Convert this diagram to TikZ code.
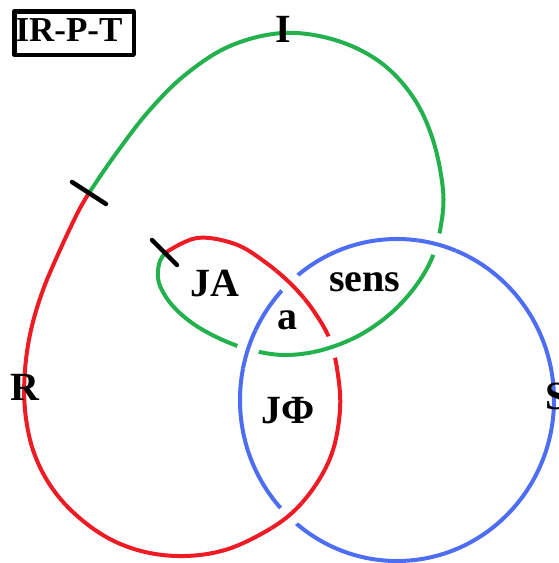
\documentclass[tikz,border=0pt]{standalone}
\usepackage{fontspec}
\setmainfont{Liberation Serif}
\definecolor{gr}{RGB}{34,177,76}
\definecolor{rd}{RGB}{237,28,36}
\definecolor{bl}{RGB}{77,109,243}
\newcommand\GreenStrand[1]{\draw[#1] plot[smooth,tension=0.6] coordinates {(89,193) (115,155) (148,112) (185,75) (230,46) (283,33) (335,40) (380,62) (413,97) (433,140) (443,190) (441,225) (432,258) (415,287) (390,314) (358,336) (322,350) (287,355) (255,351) (225,341) (195,325) (172,305) (159,283) (159,264) (165,253)};}
\newcommand\RedStrand[1]{\draw[#1] plot[smooth,tension=0.6] coordinates {(165,253) (197,238) (235,244) (265,262) (292,285) (313,310) (330,340) (338,375) (340,410) (333,450) (317,483) (293,512) (263,533) (225,550) (185,556) (145,552) (108,538) (75,514) (50,485) (33,450) (25,410) (25,370) (31,330) (43,290) (60,250) (78,212) (89,193)};}
\newcommand\BlueStrand[1]{\draw[#1] (397,400) ellipse [x radius=157, y radius=161];}
\begin{document}
\begin{tikzpicture}[x=1pt,y=-1pt,line cap=round,line join=round,
  strand/.style={line width=4pt},
  halo/.style={line width=22pt,draw=white,line cap=butt},
  lbl/.style={font=\bfseries\fontsize{40}{48}\selectfont,inner sep=0pt},
  tickmark/.style={line width=4.5pt,draw=black,line cap=round}]
\useasboundingbox (0,0) rectangle (559,563);
% full strands
\BlueStrand{strand,bl}
\GreenStrand{strand,gr}
\RedStrand{strand,rd}
% crossings
\begin{scope}\clip (437,244) circle (20); \BlueStrand{halo}\BlueStrand{strand,bl}\end{scope}
\begin{scope}\clip (248,349) circle (20); \BlueStrand{halo}\BlueStrand{strand,bl}\end{scope}
\begin{scope}\clip (332,346) circle (20); \GreenStrand{halo}\GreenStrand{strand,gr}\end{scope}
\begin{scope}\clip (292,283) circle (20); \RedStrand{halo}\RedStrand{strand,rd}\end{scope}
\begin{scope}\clip (287,516) circle (20); \RedStrand{halo}\RedStrand{strand,rd}\end{scope}
% ticks
\coordinate (ta1) at (72,182); \coordinate (ta2) at (106,204);
\coordinate (tb1) at (152,240); \coordinate (tb2) at (177,265);
\draw[tickmark] (ta1) -- (ta2);
\draw[tickmark] (tb1) -- (tb2);
% title box
\draw[line width=4.5pt,line cap=butt] (14.25,11.25) rectangle (133.75,54.75);
\node[inner sep=0pt,font=\bfseries\fontsize{35}{40}\selectfont] (title) at (69,30) {IR-P-T};
% labels
\node[lbl] (lI) at (283,29) {I};
\node[lbl] (lR) at (25,387) {R};
\node[lbl,anchor=west] (lS) at (545,396) {S};
\node[lbl] (lJA) at (215,283) {JA};
\node[lbl] (la) at (287,320) {a};
\node[lbl] (lsens) at (365,282) {sens};
\node[lbl] (lJPhi) at (288,411) {JΦ};
\end{tikzpicture}
\end{document}
